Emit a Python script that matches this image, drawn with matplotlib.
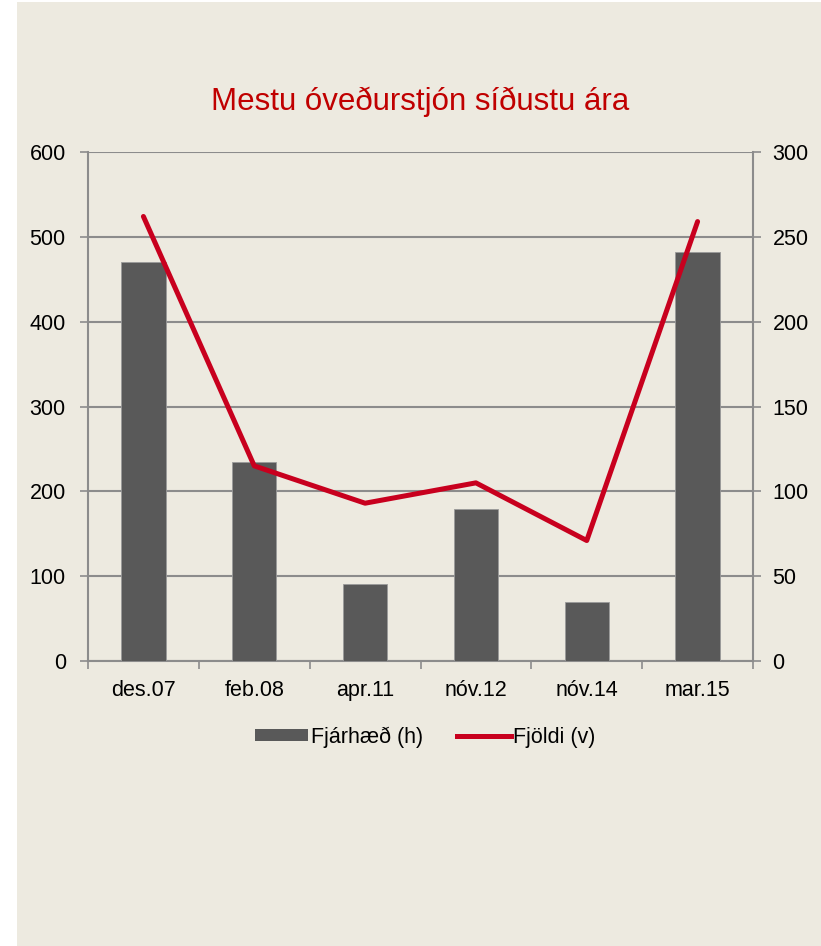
import matplotlib
matplotlib.use("Agg")
import matplotlib.pyplot as plt
from matplotlib.patches import Rectangle
from matplotlib.lines import Line2D
from matplotlib.patches import Patch

plt.rcParams['font.family'] = ['Liberation Sans', 'DejaVu Sans']

categories = ["des.07", "feb.08", "apr.11", "nóv.12", "nóv.14", "mar.15"]
fjarhaed = [470, 235, 91, 179, 69, 482]
fjoldi = [262, 115, 93, 105, 71, 259]
left_ticks = [0, 100, 200, 300, 400, 500, 600]
right_ticks = [0, 50, 100, 150, 200, 250, 300]

bg = "#EDEAE0"
grid_c = "#8C8C8C"
bar_c = "#595959"
line_c = "#C8001E"
title_c = "#C00000"
fs = 15.5

W, H = 821, 946
fig = plt.figure(figsize=(W / 100, H / 100), dpi=100)
fig.patch.set_facecolor("white")
fig.patches.append(Rectangle((17 / W, 0), 1 - 17 / W, 1 - 2 / H, transform=fig.transFigure,
                             facecolor=bg, edgecolor="none", zorder=-10))

ax = fig.add_axes([88 / W, 1 - 661 / H, (753 - 88) / W, (661 - 152) / H])
ax.set_facecolor("none")
x = list(range(len(categories)))
ax.bar(x, fjarhaed, width=0.4, color=bar_c, edgecolor="#9a9a9a", linewidth=0.6, zorder=3)
ax.set_xlim(-0.5, len(categories) - 0.5)
ax.set_ylim(0, 600)
ax.set_yticks(left_ticks)
ax.yaxis.grid(True, color=grid_c, linewidth=1.5)
ax.set_axisbelow(True)
ax.set_xticks(x)
ax.set_xticklabels(categories)
ax.set_xticks([i - 0.5 for i in range(len(categories) + 1)], minor=True)
ax.tick_params(axis='x', which='major', length=0, pad=14, labelsize=fs)
ax.tick_params(axis='x', which='minor', length=6, width=1.2, color=grid_c, direction='out')
ax.tick_params(axis='y', length=6, width=1.2, color=grid_c, labelsize=fs, pad=10)
for s in ["left", "bottom", "right"]:
    ax.spines[s].set_color(grid_c)
    ax.spines[s].set_linewidth(1.5)
ax.spines["top"].set_visible(False)

ax2 = ax.twinx()
ax2.plot(x, fjoldi, color=line_c, linewidth=3.6, solid_capstyle='round', zorder=5)
ax2.set_ylim(0, 300)
ax2.set_yticks(right_ticks)
ax2.tick_params(axis='y', length=6, width=1.2, color=grid_c, labelsize=fs, pad=8)
for s in ["left", "bottom", "right", "top"]:
    ax2.spines[s].set_visible(False)

fig.text(420 / W, 1 - 102 / H, "Mestu óveðurstjón síðustu ára", color=title_c,
         fontsize=22.5, ha="center", va="center")

handles = [Patch(facecolor=bar_c, edgecolor="none"),
           Line2D([0], [0], color=line_c, linewidth=3.6)]
fig.legend(handles, ["Fjárhæð (h)", "Fjöldi (v)"], loc="center",
           bbox_to_anchor=(425 / W, 1 - 737 / H), ncol=2, frameon=False,
           fontsize=fs, handlelength=2.5, handletextpad=0.1, columnspacing=1.6,
           handleheight=0.5)

fig.savefig("out.png", dpi=100, facecolor=fig.get_facecolor())
